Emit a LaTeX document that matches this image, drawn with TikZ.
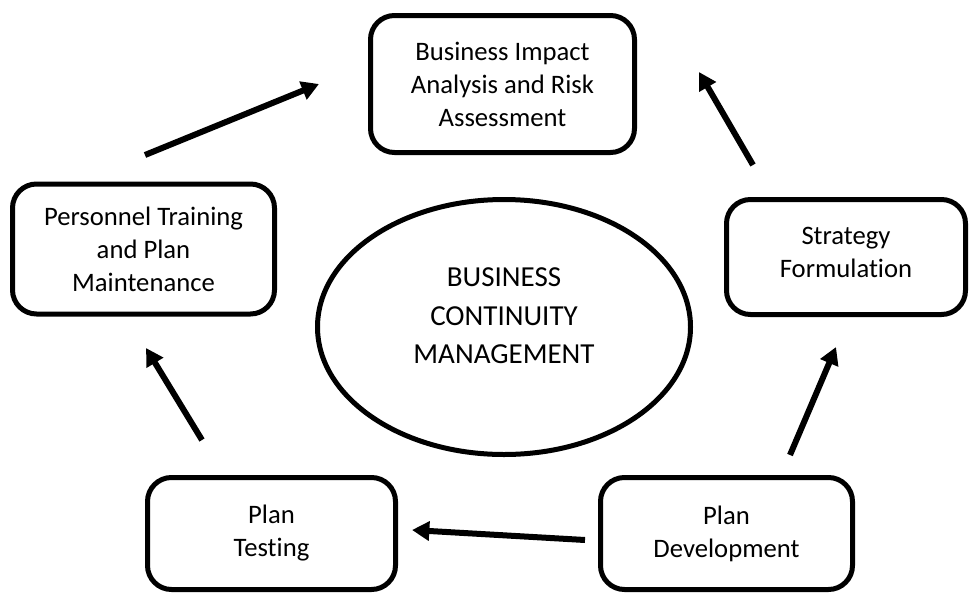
\documentclass[tikz,border=0pt]{standalone}
\usepackage{fontspec}
\setmainfont[Ligatures=NoCommon]{Carlito}
\usetikzlibrary{arrows.meta,shapes.geometric}
\begin{document}
\begin{tikzpicture}[x=0.75pt,y=-0.75pt,
  box/.style={draw,line width=3.75pt,rounded corners=18pt,align=center,
    font=\fontsize{20}{24.75}\selectfont,inner sep=0pt},
  flow/.style={line width=4.5pt,-{Triangle[length=13pt,width=14pt]}}]
\useasboundingbox (0,0) rectangle (971,593);
\node[box,minimum width=198pt,minimum height=102.75pt] (bia) at (502.5,84) {Business Impact\\Analysis and Risk\\Assessment};
\node[box,minimum width=196.5pt,minimum height=97.5pt] (ptm) at (143.5,249) {Personnel Training\\and Plan\\Maintenance};
\node[box,minimum width=179.25pt,minimum height=86.25pt] (sf) at (846,257) {};
\node[align=center,font=\fontsize{20}{24.75}\selectfont,inner sep=0pt] (sftext) at (846,252) {Strategy\\Formulation};
\node[box,minimum width=186pt,minimum height=84pt] (pt) at (271.5,533.5) {Plan\\Testing};
\node[box,minimum width=189pt,minimum height=84pt] (pd) at (726.5,533.5) {Plan\\Development};
\node[draw,ellipse,line width=3.75pt,inner sep=0pt,minimum width=279.75pt,minimum height=191.25pt] (bcm) at (504,327) {};
\node[align=center,font=\fontsize{21.75}{29}\selectfont,inner sep=0pt] (bcmtext) at (504,316) {BUSINESS\\CONTINUITY\\MANAGEMENT};
\coordinate (a1s) at (145,155); \coordinate (a1e) at (319,84);
\coordinate (a2s) at (753,165); \coordinate (a2e) at (699,72);
\coordinate (a3s) at (790,455); \coordinate (a3e) at (836,347);
\coordinate (a4s) at (585,540); \coordinate (a4e) at (412,530);
\coordinate (a5s) at (202,440); \coordinate (a5e) at (146,348);
\draw[flow] (a1s) -- (a1e);
\draw[flow] (a2s) -- (a2e);
\draw[flow] (a3s) -- (a3e);
\draw[flow] (a4s) -- (a4e);
\draw[flow] (a5s) -- (a5e);
\end{tikzpicture}
\end{document}
